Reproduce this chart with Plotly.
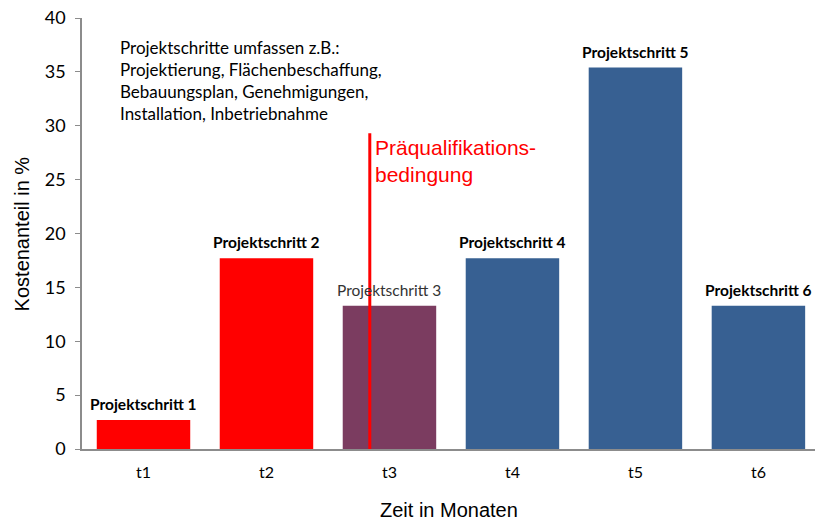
import plotly.graph_objects as go

categories = ["t1", "t2", "t3", "t4", "t5", "t6"]
values = [2.7, 17.7, 13.3, 17.7, 35.4, 13.3]
bar_labels = ["Projektschritt 1", "Projektschritt 2", "Projektschritt 3",
              "Projektschritt 4", "Projektschritt 5", "Projektschritt 6"]
bar_colors = ["#FF0000", "#FF0000", "#7B3C60", "#376092", "#376092", "#376092"]
label_bold = [True, True, False, True, True, True]
y_ticks = [0, 5, 10, 15, 20, 25, 30, 35, 40]
prequal_x = 1.84
prequal_top = 29.3

note_text = ("Projektschritte umfassen z.B.:<br>Projektierung, Flächenbeschaffung,<br>"
             "Bebauungsplan, Genehmigungen,<br>Installation, Inbetriebnahme")
prequal_text = "Präqualifikations-<br>bedingung"

LBL_FONT = "Lato, Calibri, Carlito, sans-serif"
ARIAL = "Liberation Sans, Arial, sans-serif"

fig = go.Figure()
fig.add_trace(go.Bar(
    x=categories, y=values, width=0.76,
    marker=dict(color=bar_colors, line=dict(width=0)),
    showlegend=False, hoverinfo="x+y",
))

for c, v, t, b in zip(categories, values, bar_labels, label_bold):
    fig.add_annotation(
        x=c, y=v, xref="x", yref="y", text=f"<b>{t}</b>" if b else t,
        showarrow=False, yanchor="bottom", yshift=5,
        font=dict(family=LBL_FONT, size=15.5, color="#000000" if b else "#333333"),
    )

fig.add_shape(type="line", xref="x", yref="y", x0=prequal_x, x1=prequal_x,
              y0=0, y1=prequal_top, line=dict(color="#FF0000", width=3))
fig.add_annotation(x=prequal_x, y=prequal_top, xref="x", yref="y",
                   text=prequal_text, showarrow=False, xanchor="left", yanchor="top",
                   align="left", xshift=3, yshift=-1,
                   font=dict(family=ARIAL, size=21, color="#FF0000"))

fig.add_annotation(x=0.049, y=0.96, xref="paper", yref="paper", text=note_text,
                   showarrow=False, xanchor="left", yanchor="top", align="left",
                   font=dict(family=LBL_FONT, size=17, color="#000000"))

# axis titles
fig.add_annotation(x=0.5, y=-0.1415, xref="paper", yref="paper", text="Zeit in Monaten",
                   showarrow=False, xanchor="center", yanchor="middle",
                   font=dict(family=ARIAL, size=20, color="#000000"))
fig.add_annotation(x=-0.082, y=0.5, xref="paper", yref="paper", text="Kostenanteil in %",
                   showarrow=False, xanchor="center", yanchor="middle", textangle=-90,
                   font=dict(family=ARIAL, size=20, color="#000000"))

fig.update_layout(
    width=815, height=520,
    margin=dict(l=82, r=0, t=18, b=71),
    paper_bgcolor="white", plot_bgcolor="white",
    xaxis=dict(
        type="category", range=[-0.5, 5.46], automargin=False,
        showline=True, linecolor="#8C8C8C", linewidth=1.5,
        ticks="", showgrid=False, ticklabelstandoff=8,
        tickfont=dict(family=LBL_FONT, size=16, color="#000000"),
    ),
    yaxis=dict(
        range=[0, 40], tickvals=y_ticks, showgrid=False, zeroline=False, automargin=False,
        showline=True, linecolor="#8C8C8C", linewidth=1.5, ticklabeloverflow="allow",
        ticks="outside", ticklen=5, tickcolor="#8C8C8C", ticklabelstandoff=6,
        tickfont=dict(family=LBL_FONT, size=18, color="#000000"),
    ),
)

# remove the default page margin so the 815x520 figure fills the window exactly
fig.write_html("out.html", config={"displayModeBar": False},
               post_script="document.body.style.margin='0';document.body.style.overflow='hidden';")
